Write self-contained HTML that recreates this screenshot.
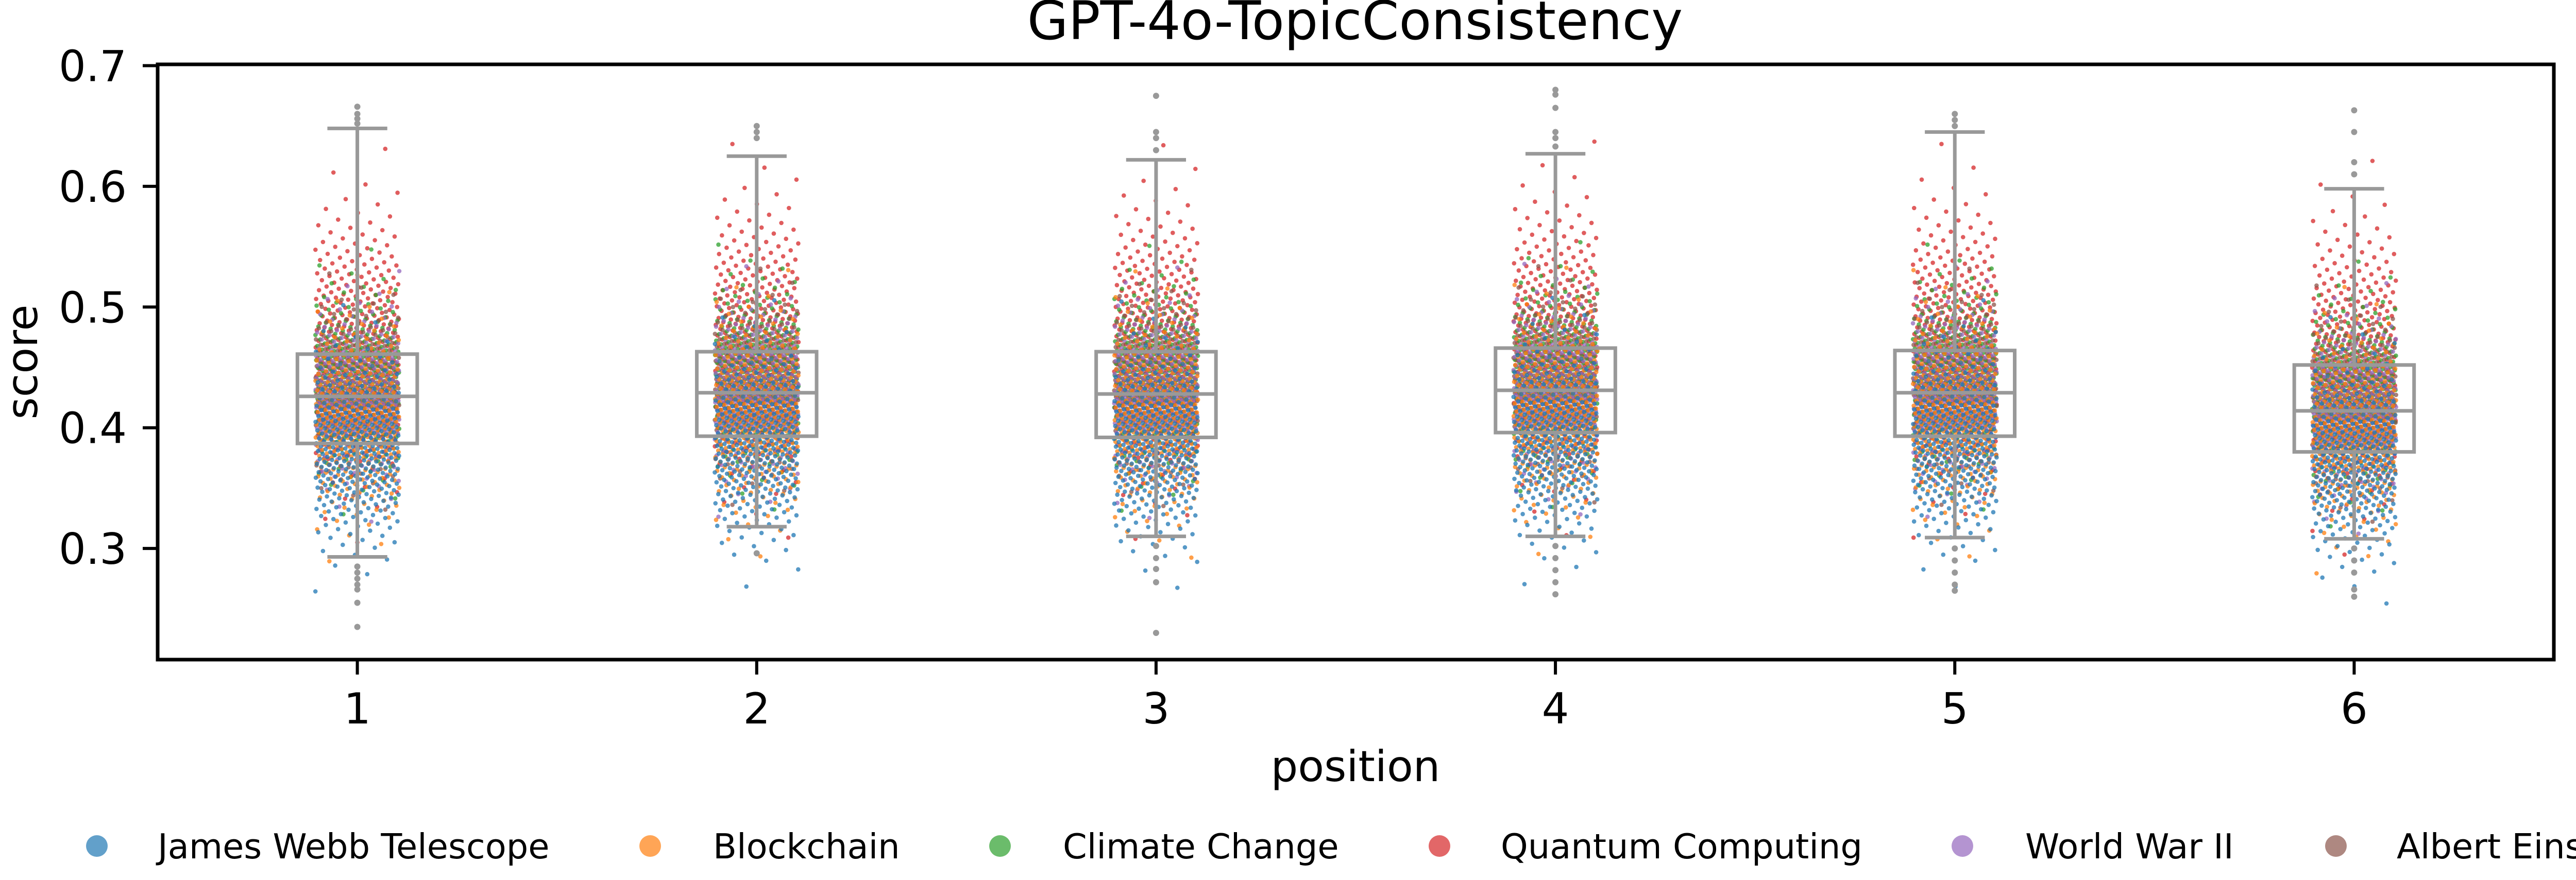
<!DOCTYPE html>
<html><head><meta charset="utf-8"><style>
html,body{margin:0;padding:0;background:#fff;overflow:hidden;}
svg{display:block;font-family:"DejaVu Sans","Liberation Sans",sans-serif;}
</style></head><body>
<svg id="chart" width="5167" height="1709" viewBox="0 0 5167 1709" xmlns="http://www.w3.org/2000/svg">
<rect x="0" y="0" width="5167" height="1709" fill="#fff"/>
<text x="2630" y="76" font-size="103" text-anchor="middle">GPT-4o-TopicConsistency</text>
<g id="points"></g>
<g id="boxes"></g>
<rect x="306" y="125" width="4651" height="1156" fill="none" stroke="#000" stroke-width="7"/>
<g id="yaxis"></g>
<g id="xaxis"></g>
<text x="0" y="0" transform="translate(72,703) rotate(-90)" font-size="83" text-anchor="middle">score</text>
<text x="2631" y="1517" font-size="83" text-anchor="middle">position</text>
<g id="legend"></g>
</svg>
<script>
const categories = ["1","2","3","4","5","6"];
const topics = ["James Webb Telescope","Blockchain","Climate Change","Quantum Computing","World War II","Albert Einstein"];
const topicColors = ["#1f77b4","#ff7f0e","#2ca02c","#d62728","#9467bd","#8c564b"];
const q1 = [0.387,0.393,0.392,0.396,0.393,0.380];
const medians = [0.426,0.429,0.428,0.431,0.429,0.414];
const q3 = [0.461,0.463,0.463,0.466,0.464,0.452];
const whiskerLow = [0.293,0.318,0.310,0.310,0.309,0.308];
const whiskerHigh = [0.648,0.625,0.622,0.627,0.645,0.598];
const outliers = [
  [0.652,0.656,0.660,0.666,0.285,0.280,0.275,0.270,0.266,0.255,0.235],
  [0.640,0.645,0.650,0.296],
  [0.675,0.645,0.640,0.630,0.302,0.292,0.283,0.272,0.230],
  [0.680,0.676,0.665,0.645,0.640,0.633,0.302,0.292,0.282,0.272,0.262],
  [0.660,0.655,0.650,0.300,0.290,0.280,0.270,0.265],
  [0.663,0.645,0.620,0.610,0.300,0.290,0.280,0.266,0.260]
];
const topicMeans = [0.385,0.410,0.440,0.470,0.428,0.432];
const topicSds = [0.040,0.040,0.037,0.055,0.035,0.033];
const positionShift = [-0.002,0.002,0.001,0.004,0.002,-0.012];
const pointsPerTopic = 330;
const yTicks = [0.3,0.4,0.5,0.6,0.7];

const NS="http://www.w3.org/2000/svg";
const X0=306, X1=4957, Y07=127.5, PX01=234.4;
const xScale = i => X0 + (i+0.5)*(X1-X0)/categories.length;
const yScale = v => Y07 + (0.7-v)*PX01*10;
const catW = (X1-X0)/categories.length;
function el(tag, attrs, parent){const e=document.createElementNS(NS,tag);for(const k in attrs)e.setAttribute(k,attrs[k]);parent.appendChild(e);return e;}
function invNorm(p){
  const a=[-39.6968302866538,220.946098424521,-275.928510446969,138.357751867269,-30.6647980661472,2.50662827745924];
  const b=[-54.4760987982241,161.585836858041,-155.698979859887,66.8013118877197,-13.2806815528857];
  const c=[-0.00778489400243029,-0.322396458041136,-2.40075827716184,-2.54973253934373,4.37466414146497,2.93816398269878];
  const d=[0.00778469570904146,0.32246712907004,2.445134137143,3.75440866190742];
  let q,r;
  if(p<0.02425){q=Math.sqrt(-2*Math.log(p));return (((((c[0]*q+c[1])*q+c[2])*q+c[3])*q+c[4])*q+c[5])/((((d[0]*q+d[1])*q+d[2])*q+d[3])*q+1);}
  if(p>1-0.02425){q=Math.sqrt(-2*Math.log(1-p));return -(((((c[0]*q+c[1])*q+c[2])*q+c[3])*q+c[4])*q+c[5])/((((d[0]*q+d[1])*q+d[2])*q+d[3])*q+1);}
  q=p-0.5;r=q*q;return (((((a[0]*r+a[1])*r+a[2])*r+a[3])*r+a[4])*r+a[5])*q/(((((b[0]*r+b[1])*r+b[2])*r+b[3])*r+b[4])*r+1);
}
const pts=document.getElementById('points');
categories.forEach((c,ci)=>{
  const g=el('g',{},pts);
  
  
  for(let i=0;i<pointsPerTopic;i++){
    topics.forEach((t,ti)=>{
      const v=topicMeans[ti]+positionShift[ci]+topicSds[ti]*invNorm((i+0.5)/pointsPerTopic);
      const jf=((i*0.6180339887+ti*0.1667+ci*0.377)%1)*2-1;
      const dot=el('circle',{cx:(xScale(ci)+jf*0.105*catW).toFixed(1),cy:yScale(v).toFixed(1),r:4.3,fill:topicColors[ti],'fill-opacity':0.75},g);
      
      
    });
  }
});
const bx=document.getElementById('boxes');
const grey="#999999";
categories.forEach((c,ci)=>{
  const cx=xScale(ci), bw=0.3*catW, cw=bw/2;
  const g=el('g',{},bx);
  
  
  const w1=el('line',{x1:cx,x2:cx,y1:yScale(q3[ci]),y2:yScale(whiskerHigh[ci]),stroke:grey,'stroke-width':7},g);
  
  
  const w2=el('line',{x1:cx,x2:cx,y1:yScale(q1[ci]),y2:yScale(whiskerLow[ci]),stroke:grey,'stroke-width':7},g);
  
  
  const c1=el('line',{x1:cx-cw/2,x2:cx+cw/2,y1:yScale(whiskerHigh[ci]),y2:yScale(whiskerHigh[ci]),stroke:grey,'stroke-width':7},g);
  
  
  const c2=el('line',{x1:cx-cw/2,x2:cx+cw/2,y1:yScale(whiskerLow[ci]),y2:yScale(whiskerLow[ci]),stroke:grey,'stroke-width':7},g);
  
  
  const r=el('rect',{x:cx-bw/2,y:yScale(q3[ci]),width:bw,height:yScale(q1[ci])-yScale(q3[ci]),fill:'none',stroke:grey,'stroke-width':7},g);
  
  
  const m=el('line',{x1:cx-bw/2,x2:cx+bw/2,y1:yScale(medians[ci]),y2:yScale(medians[ci]),stroke:grey,'stroke-width':7},g);
  
  
  outliers[ci].forEach(v=>{
    const o=el('circle',{cx:cx,cy:yScale(v),r:6,fill:grey},g);
    
    
  });
});
const ya=document.getElementById('yaxis');
yTicks.forEach(t=>{
  const y=yScale(t);
  const l=el('line',{x1:277,x2:306,y1:y,y2:y,stroke:'#000','stroke-width':6},ya);
  
  
  const tx=el('text',{x:246,y:y+30,'font-size':83,'text-anchor':'end'},ya);
  tx.textContent=t.toFixed(1);
  
  
});
const xa=document.getElementById('xaxis');
categories.forEach((c,ci)=>{
  const x=xScale(ci);
  const l=el('line',{x1:x,x2:x,y1:1281,y2:1310,stroke:'#000','stroke-width':6},xa);
  
  
  const tx=el('text',{x:x,y:1405,'font-size':83,'text-anchor':'middle'},xa);
  tx.textContent=c;
  
  
});
const lg=document.getElementById('legend');
const markerX=[188,1262,1941,2794,3809,4534];
const textX=[306,1384,2063,2913,3931,4652];
topics.forEach((t,ti)=>{
  const g=el('g',{},lg);
  
  
  const c=el('circle',{cx:markerX[ti],cy:1643,r:21,fill:topicColors[ti],'fill-opacity':0.7},g);
  
  
  const tx=el('text',{x:textX[ti],y:1667,'font-size':67},g);
  tx.textContent=t;
  
  
});
</script>
</body></html>
